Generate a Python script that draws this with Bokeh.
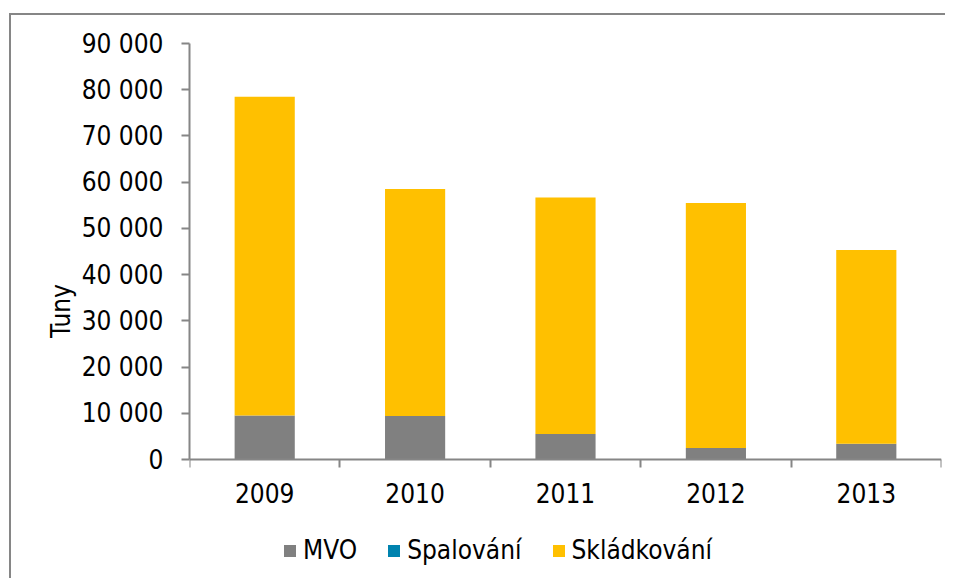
from bokeh.plotting import figure
from bokeh.layouts import column
from bokeh.models import Range1d, FixedTicker, Legend, LegendItem, ColumnDataSource
from bokeh.embed import file_html
from bokeh.resources import INLINE

years = ["2009", "2010", "2011", "2012", "2013"]
mvo = [9500, 9400, 5500, 2500, 3400]
spalovani = [0, 0, 0, 0, 0]
skladkovani = [69000, 49100, 51200, 53000, 41900]
series = ["MVO", "Spalování", "Skládkování"]
colors = ["#808080", "#0083AF", "#FFC000"]
ytick_values = [0, 10000, 20000, 30000, 40000, 50000, 60000, 70000, 80000, 90000]
ytick_labels = ["0", "10 000", "20 000", "30 000", "40 000", "50 000", "60 000", "70 000", "80 000", "90 000"]

FONT = "DejaVu Sans Condensed"
GRAY = "#868686"

centers = [i + 0.5 for i in range(len(years))]
bounds = [float(i) for i in range(len(years) + 1)]

# the frame extends below zero so that the legend area lies inside it
PLOT_H = 416
FRAME_H = 535
y_max = ytick_values[-1]
y_min = -y_max * (FRAME_H - PLOT_H) / PLOT_H

src = ColumnDataSource(dict(x=centers, MVO=mvo, Spal=spalovani, Skl=skladkovani))

p = figure(output_backend="svg", toolbar_location=None,
           frame_width=752, frame_height=FRAME_H,
           min_border_left=178, min_border_top=28, min_border_right=4, min_border_bottom=0,
           x_range=Range1d(0, len(years)), y_range=Range1d(y_min, y_max),
           margin=(2, 0, 0, 2))

rs = p.vbar_stack(["MVO", "Spal", "Skl"], x="x", width=0.4, source=src,
                  color=colors, line_color=None)

p.xgrid.visible = False
p.ygrid.visible = False
p.outline_line_color = None
p.background_fill_color = "white"
p.border_fill_color = "white"

xa = p.xaxis[0]
xa.fixed_location = 0
xa.ticker = FixedTicker(ticks=centers, minor_ticks=bounds)
xa.major_label_overrides = {c: y for c, y in zip(centers, years)}
xa.major_tick_line_color = None
xa.major_tick_out = 0
xa.major_tick_in = 0
xa.minor_tick_out = 8
xa.minor_tick_in = 0
xa.minor_tick_line_color = GRAY
xa.minor_tick_line_width = 2
xa.axis_line_color = GRAY
xa.axis_line_width = 2
xa.major_label_text_font = FONT
xa.major_label_text_font_size = "26px"
xa.major_label_text_color = "black"
xa.major_label_standoff = 15

ya = p.yaxis[0]
ya.bounds = (0, y_max)
ya.ticker = FixedTicker(ticks=ytick_values, minor_ticks=[])
ya.major_label_overrides = {v: l for v, l in zip(ytick_values, ytick_labels)}
ya.major_tick_out = 8
ya.major_tick_in = 0
ya.major_tick_line_color = GRAY
ya.major_tick_line_width = 2
ya.axis_line_color = GRAY
ya.axis_line_width = 2
ya.major_label_text_font = FONT
ya.major_label_text_font_size = "26px"
ya.major_label_text_color = "black"
ya.major_label_standoff = 18
ya.axis_label = "Tuny"
ya.axis_label_text_font = FONT
ya.axis_label_text_font_size = "26px"
ya.axis_label_text_font_style = "normal"
ya.axis_label_text_color = "black"
ya.axis_label_standoff = 3

legend = Legend(items=[LegendItem(label=s, renderers=[r]) for s, r in zip(series, rs)],
                orientation="horizontal", location=(93, 13),
                glyph_width=15, glyph_height=15, label_standoff=6, spacing=29,
                padding=0, margin=0, border_line_color=None, background_fill_alpha=0,
                label_text_font=FONT, label_text_font_size="26px", label_text_color="black")
p.add_layout(legend, "center")

bg = (f"linear-gradient({GRAY}, {GRAY}) top left / 100% 2px no-repeat, "
      f"linear-gradient({GRAY}, {GRAY}) top left / 2px 100% no-repeat")
layout = column(p, styles={"background": bg}, margin=(13, 0, 0, 9))

open("out.html", "w").write(file_html(layout, INLINE))
